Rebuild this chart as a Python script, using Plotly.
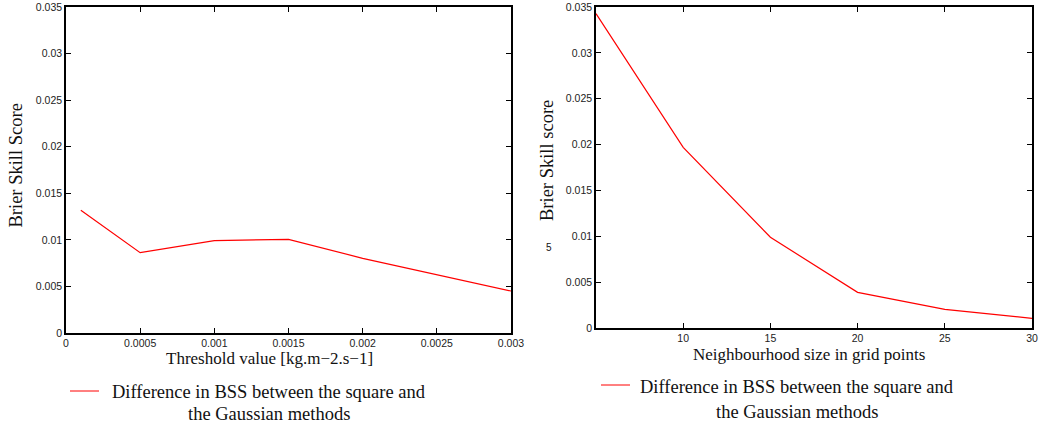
import plotly.graph_objects as go

# Left panel data
threshold = [0.0001, 0.0005, 0.001, 0.0015, 0.002, 0.0025, 0.003]
bss_diff_threshold = [0.01317, 0.00862, 0.00991, 0.01006, 0.00802, 0.00623, 0.00451]

# Right panel data
neigh_size = [5, 10, 15, 20, 25, 30]
bss_diff_neigh = [0.03427, 0.0197, 0.00989, 0.00389, 0.00204, 0.00106]

left_xticks = [0, 0.0005, 0.001, 0.0015, 0.002, 0.0025, 0.003]
left_xticklabels = ["0", "0.0005", "0.001", "0.0015", "0.002", "0.0025", "0.003"]
right_xticks = [10, 15, 20, 25, 30]
yticks = [0, 0.005, 0.01, 0.015, 0.02, 0.025, 0.03, 0.035]
yticklabels = ["0", "0.005", "0.01", "0.015", "0.02", "0.025", "0.03", "0.035"]

legend_line1 = "Difference in BSS between the square and"
legend_line2 = "the Gaussian methods"

W, H = 1045, 428
RED = "#ff0000"
TXT = "#111111"
SERIF = "Liberation Serif, Times New Roman, serif"
SANS = "Liberation Sans, Arial, sans-serif"

fig = go.Figure()
fig.add_trace(go.Scatter(x=threshold, y=bss_diff_threshold, mode="lines",
                         line=dict(color=RED, width=1.2), xaxis="x", yaxis="y",
                         showlegend=False))
fig.add_trace(go.Scatter(x=neigh_size, y=bss_diff_neigh, mode="lines",
                         line=dict(color=RED, width=1.2), xaxis="x2", yaxis="y2",
                         showlegend=False))

def px_x(p):
    return p / W

def px_y(p):
    return 1 - p / H

axis_common = dict(showgrid=False, zeroline=False, showline=True, mirror="ticks",
                   linecolor="black", linewidth=1.5, ticks="inside", ticklen=5,
                   tickcolor="black", tickwidth=1, automargin=False,
                   tickfont=dict(family=SANS, size=10.5, color="#222222"))

fig.update_layout(
    width=W, height=H, margin=dict(l=0, r=0, t=0, b=0, autoexpand=False),
    paper_bgcolor="white", plot_bgcolor="white", showlegend=False,
    xaxis=dict(domain=[px_x(66), px_x(511)], range=[0, 0.003], anchor="y",
               tickvals=left_xticks, ticktext=left_xticklabels, **axis_common),
    yaxis=dict(domain=[px_y(333), px_y(7)], range=[0, 0.035], anchor="x",
               tickvals=yticks, ticktext=yticklabels, **axis_common),
    xaxis2=dict(domain=[px_x(596), px_x(1032)], range=[5, 30], anchor="y2",
                tickvals=right_xticks, **axis_common),
    yaxis2=dict(domain=[px_y(328), px_y(7)], range=[0, 0.035], anchor="x2",
                tickvals=yticks, ticktext=yticklabels, **axis_common),
)

def text_at(text, x, y, size, family=SERIF, angle=0):
    fig.add_annotation(text=text, xref="paper", yref="paper",
                       x=px_x(x), y=px_y(y), xanchor="center", yanchor="middle",
                       showarrow=False, textangle=angle,
                       font=dict(family=family, size=size, color=TXT))

# axis titles
text_at("Threshold value [kg.m\u22122.s\u22121]", 269.5, 358, 17)
text_at("Brier Skill Score", 15, 165.5, 18.5, angle=-90)
text_at("Neighbourhood size in grid points", 808.5, 354, 17)
text_at("Brier Skill score", 547, 161, 18.5, angle=-90)

# legend samples and text
fig.add_shape(type="line", xref="paper", yref="paper",
              x0=px_x(70), x1=px_x(99), y0=px_y(391), y1=px_y(391),
              line=dict(color=RED, width=1))
fig.add_shape(type="line", xref="paper", yref="paper",
              x0=px_x(601), x1=px_x(630), y0=px_y(385), y1=px_y(385),
              line=dict(color=RED, width=1))
text_at(legend_line1, 269, 392, 18.5)
text_at(legend_line2, 269, 414, 18.5)
text_at(legend_line1, 796.5, 387, 18.5)
text_at(legend_line2, 796.5, 412, 18.5)

# stray label present in the original image
text_at("5", 549, 247, 10, family=SANS)

fig.write_html("out.html",
               config={"displayModeBar": False},
               post_script="document.body.style.margin='0';"
                           "document.body.style.overflow='hidden';")
